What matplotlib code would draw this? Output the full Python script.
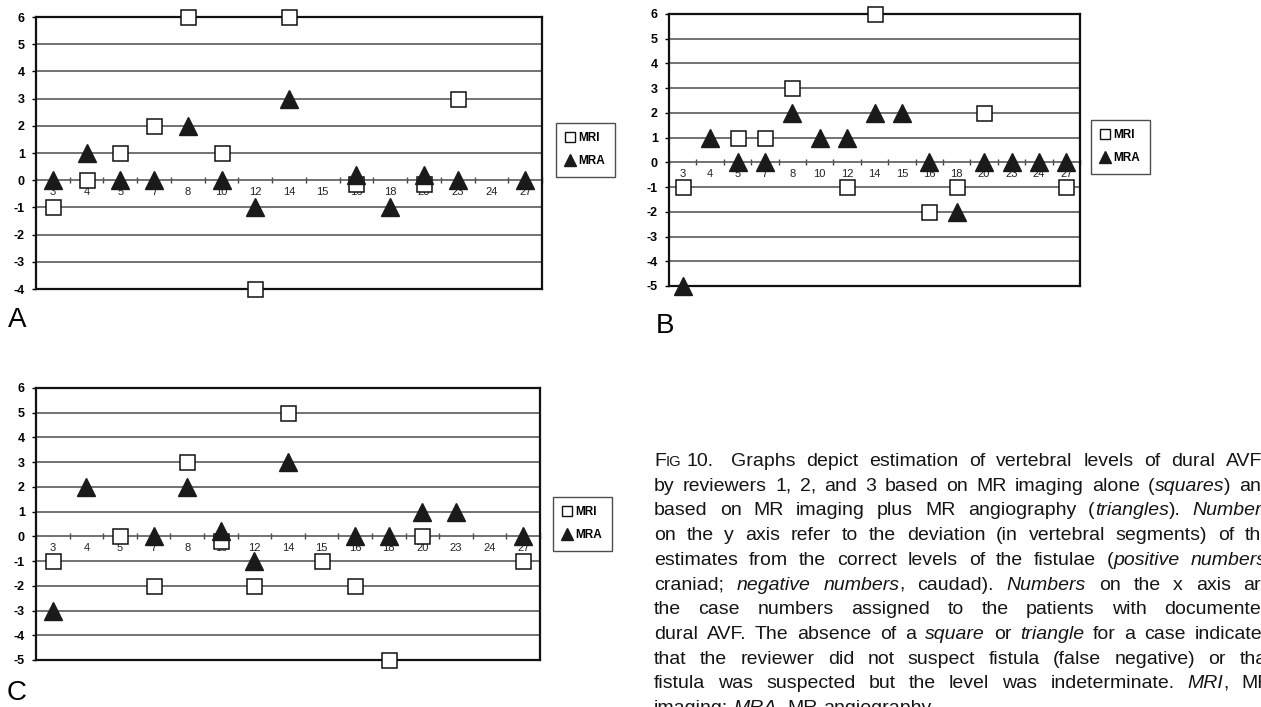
import matplotlib
matplotlib.use('Agg')
import matplotlib.pyplot as plt
import numpy as np
from matplotlib.lines import Line2D

plt.rcParams['font.family'] = ['Liberation Sans', 'DejaVu Sans']

W, H = 1261, 707
fig = plt.figure(figsize=(W / 100, H / 100), dpi=100)

nan = np.nan
cases = [3, 4, 5, 7, 8, 10, 12, 14, 15, 16, 18, 20, 23, 24, 27]

# Panel A (reviewer 1)
a_mri = [-1, 0, 1, 2, 6, 1, -4, 6, nan, -0.15, nan, -0.15, 3, nan, nan]
a_mra = [0, 1, 0, 0, 2, 0, -1, 3, nan, 0.2, -1, 0.2, 0, nan, 0]
# Panel B (reviewer 2)
b_mri = [-1, nan, 1, 1, 3, nan, -1, 6, nan, -2, -1, 2, nan, nan, -1]
b_mra = [-5, 1, 0, 0, 2, 1, 1, 2, 2, 0, -2, 0, 0, 0, 0]
# Panel C (reviewer 3)
c_mri = [-1, nan, 0, -2, 3, -0.2, -2, 5, -1, -2, -5, 0, nan, nan, -1]
c_mra = [-3, 2, nan, 0, 2, 0.2, -1, 3, nan, 0, 0, 1, 1, nan, 0]

series_labels = ['MRI', 'MRA']


def px(x0, y_top, x1, y_bot):
    return [x0 / W, 1 - y_bot / H, (x1 - x0) / W, (y_bot - y_top) / H]


def panel(rect, mri, mra, ymin, ymax, leg_xy):
    ax = fig.add_axes(rect)
    x = np.arange(len(cases))
    ax.set_xlim(-0.5, len(cases) - 0.5)
    ax.set_ylim(ymin, ymax)
    yt = list(range(ymin, ymax + 1))
    ax.set_yticks(yt)
    ax.set_yticklabels([str(v) for v in yt], fontweight='bold', fontsize=9)
    ax.tick_params(axis='y', length=3, width=1, pad=5, direction='out')
    ax.set_xticks([])
    ax.yaxis.grid(True, color='#5a5a5a', lw=1.2)
    ax.set_axisbelow(True)
    for s in ax.spines.values():
        s.set_linewidth(1.6)
        s.set_color('#111111')
    sec = ax.secondary_xaxis((0 - ymin) / (ymax - ymin))
    sec.set_xticks(x, labels=[str(c) for c in cases])
    sec.set_xticks(np.arange(len(cases) + 1) - 0.5, minor=True)
    sec.tick_params(which='major', length=0, pad=5, labelsize=8, labelcolor='#222222')
    sec.tick_params(which='minor', length=4, direction='inout', width=1, color='#444444')
    for s in sec.spines.values():
        s.set_visible(False)
    ax.plot(x, mri, ls='none', marker='s', ms=10.8, mfc='white', mec='#111111',
            mew=1.1, clip_on=False, zorder=3)
    ax.plot(x, mra, ls='none', marker='^', ms=13, mfc='#1a1a1a', mec='#1a1a1a',
            clip_on=False, zorder=4)
    handles = [
        Line2D([], [], ls='none', marker='s', ms=7, mfc='white', mec='#111111', mew=1),
        Line2D([], [], ls='none', marker='^', ms=8, mfc='#1a1a1a', mec='#1a1a1a'),
    ]
    leg = ax.legend(handles, series_labels, loc='upper left',
                    bbox_to_anchor=(leg_xy[0] / W, 1 - leg_xy[1] / H),
                    bbox_transform=fig.transFigure, frameon=True, fancybox=False,
                    edgecolor='#222222', handlelength=0.8, handletextpad=0.3,
                    labelspacing=0.9, borderpad=0.8, borderaxespad=0,
                    prop={'weight': 'bold', 'size': 8.5})
    leg.get_frame().set_linewidth(1.0)
    return ax


panel(px(36, 17, 542, 289), a_mri, a_mra, -4, 6, (556, 123))
panel(px(669, 14, 1080, 286), b_mri, b_mra, -5, 6, (1091, 120))
panel(px(36, 388, 540, 660), c_mri, c_mra, -5, 6, (553, 497))

fig.text(8 / W, 1 - 327 / H, 'A', fontsize=20, va='baseline', ha='left')
fig.text(656 / W, 1 - 333 / H, 'B', fontsize=20, va='baseline', ha='left')
fig.text(7 / W, 1 - 700 / H, 'C', fontsize=20, va='baseline', ha='left')

# ---- caption ----
FS = 14
renderer = fig.canvas.get_renderer()


def measure(txt, size=FS, style='normal'):
    t = fig.text(0, 0, txt, fontsize=size, style=style)
    w = t.get_window_extent(renderer).width
    t.remove()
    return w


SPACE = measure('a a') - measure('aa')


def parse(line):
    words = []
    ital = False
    for w in line.split(' '):
        pieces = []
        buf = ''
        for ch in w:
            if ch == '*':
                if buf:
                    pieces.append((buf, ital, FS))
                buf = ''
                ital = not ital
            else:
                buf += ch
        if buf:
            pieces.append((buf, ital, FS))
        words.append(pieces)
    return words


def place(words, x0, x1, ybase, justify=True):
    objs = []
    total = 0
    for pieces in words:
        wl = []
        ww = 0
        for txt, it, size in pieces:
            t = fig.text(0, 0, txt, fontsize=size, style='italic' if it else 'normal',
                         va='baseline', ha='left', color='#151515')
            w = t.get_window_extent(renderer).width
            wl.append((t, w))
            ww += w
        objs.append(wl)
        total += ww
    if justify and len(objs) > 1:
        gap = max((x1 - x0 - total) / (len(objs) - 1), 0.6 * SPACE)
    else:
        gap = SPACE
    x = x0
    for wl in objs:
        for t, w in wl:
            t.set_position((x / W, 1 - ybase / H))
            x += w
        x += gap


X0, X1 = 654, 1272
Y0, DY = 466, 24.7

# first line with small-caps "Fig"
place([[('F', False, FS), ('IG', False, FS * 0.76)], [('10.', False, FS)]],
      X0, 720, Y0, justify=False)
place(parse('Graphs depict estimation of vertebral levels of dural AVFs'), 731, X1, Y0)

caption_lines = [
    'by reviewers 1, 2, and 3 based on MR imaging alone (*squares*) and',
    'based on MR imaging plus MR angiography (*triangles*). *Numbers*',
    'on the y axis refer to the deviation (in vertebral segments) of the',
    'estimates from the correct levels of the fistulae (*positive numbers*,',
    'craniad; *negative numbers*, caudad). *Numbers* on the x axis are',
    'the case numbers assigned to the patients with documented',
    'dural AVF. The absence of a *square* or *triangle* for a case indicates',
    'that the reviewer did not suspect fistula (false negative) or that',
    'fistula was suspected but the level was indeterminate. *MRI*, MR',
    'imaging; *MRA*, MR angiography.',
]
for i, line in enumerate(caption_lines):
    place(parse(line), X0, X1, Y0 + (i + 1) * DY, justify=(i < len(caption_lines) - 1))

fig.savefig('out.png', dpi=100)
